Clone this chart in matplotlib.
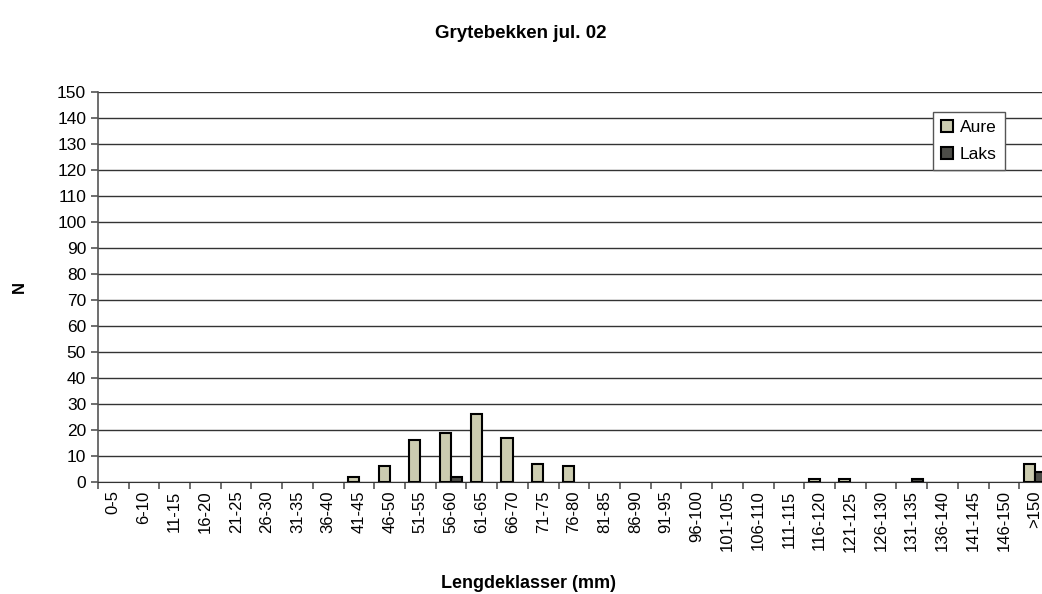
import numpy as np
import matplotlib.pyplot as plt

plt.rcParams['font.family'] = ['Liberation Sans', 'DejaVu Sans']

klasser = ['0-5', '6-10', '11-15', '16-20', '21-25', '26-30', '31-35', '36-40',
           '41-45', '46-50', '51-55', '56-60', '61-65', '66-70', '71-75', '76-80',
           '81-85', '86-90', '91-95', '96-100', '101-105', '106-110', '111-115',
           '116-120', '121-125', '126-130', '131-135', '136-140', '141-145',
           '146-150', '>150']
aure = [0, 0, 0, 0, 0, 0, 0, 0, 2, 6, 16, 19, 26, 17, 7, 6,
        0, 0, 0, 0, 0, 0, 0, 1, 1, 0, 0, 0, 0, 0, 7]
laks = [0, 0, 0, 0, 0, 0, 0, 0, 0, 0, 0, 2, 0, 0, 0, 0,
        0, 0, 0, 0, 0, 0, 0, 0, 0, 0, 1, 0, 0, 0, 4]

fig = plt.figure(figsize=(10.42, 5.94), dpi=100)
ax = fig.add_axes([0.094, 0.1886, 0.9136, 0.6565])

x = np.arange(len(klasser))
w = 0.36
a = np.array(aure)
l = np.array(laks)
# skip empty classes so no flat outline is drawn at zero
ax.bar(x[a > 0] - w / 2, a[a > 0], w, color='#CCCCB0', edgecolor='black',
       linewidth=1.5, label='Aure', zorder=3)
ax.bar(x[l > 0] + w / 2, l[l > 0], w, color='#4D4D48', edgecolor='black',
       linewidth=1.5, label='Laks', zorder=3)

ax.set_xlim(-0.5, len(klasser) - 0.5)
ax.set_ylim(0, 150)
ax.set_yticks(range(0, 151, 10))
ax.yaxis.grid(True, color='#333333', linewidth=1)
ax.set_axisbelow(True)

ax.set_xticks(x)
ax.set_xticklabels(klasser, rotation=90, fontsize=12)
ax.set_xticks(np.arange(-0.5, len(klasser), 1), minor=True)
ax.tick_params(axis='x', which='major', length=0, pad=6)
ax.tick_params(axis='x', which='minor', length=5, color='#555555', width=1.2)
ax.tick_params(axis='y', length=5, color='#555555', width=1.2, labelsize=12.5)

for s in ['top', 'right']:
    ax.spines[s].set_visible(False)
ax.spines['left'].set_color('#555555')
ax.spines['left'].set_linewidth(1.2)
ax.spines['bottom'].set_color('#333333')

ax.set_ylabel('N', fontsize=12, fontweight='bold', labelpad=22)
fig.text(0.507, 1 - 584 / 594, 'Lengdeklasser (mm)', ha='center', va='center',
         fontsize=13, fontweight='bold')
fig.suptitle('Grytebekken jul. 02', x=0.5, y=1 - 33 / 594, va='center',
             fontsize=13.5, fontweight='bold')

leg = ax.legend(loc='upper left', bbox_to_anchor=(933 / 1042, 1 - 112 / 594),
                bbox_transform=fig.transFigure, fontsize=12.5, frameon=True,
                fancybox=False, edgecolor='#555555', framealpha=1,
                handlelength=0.7, handleheight=0.7, handletextpad=0.4,
                borderpad=0.45, labelspacing=0.7, borderaxespad=0)
leg.get_frame().set_linewidth(1)

fig.savefig('out.png', dpi=100)
